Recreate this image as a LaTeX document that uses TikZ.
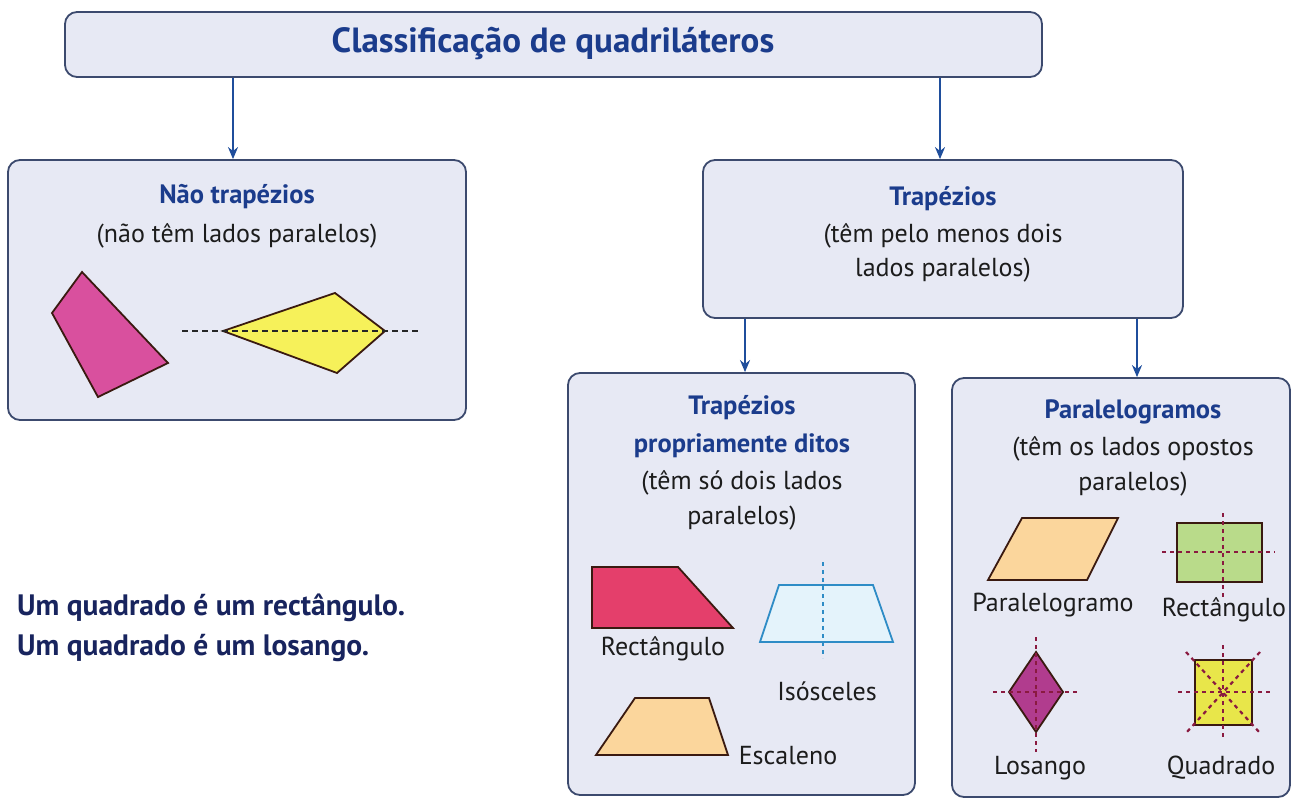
\documentclass[tikz,border=0pt]{standalone}
\usepackage{fontspec}
\setmainfont{PT Sans}
\usetikzlibrary{arrows.meta}
\definecolor{boxfill}{HTML}{E7E9F4}
\definecolor{boxline}{HTML}{3C4A6E}
\definecolor{headblue}{HTML}{1B3C8C}
\definecolor{arrowblue}{HTML}{1F4E9C}
\definecolor{navy}{HTML}{18245E}
\definecolor{txt}{HTML}{1C1C1C}
\definecolor{pinkq}{HTML}{D9509E}
\definecolor{yellowq}{HTML}{F6F15A}
\definecolor{redq}{HTML}{E43F6B}
\definecolor{lightblueq}{HTML}{E4F3FB}
\definecolor{blueline}{HTML}{2E8CC6}
\definecolor{peach}{HTML}{FBD69C}
\definecolor{greenq}{HTML}{B9DB8A}
\definecolor{purpleq}{HTML}{B13C8E}
\definecolor{yellow2}{HTML}{E8E64A}
\definecolor{maroon}{HTML}{8A1A40}
\definecolor{darkline}{HTML}{3A1A10}
\tikzset{
  panel/.style={draw=boxline, line width=1.8pt, fill=boxfill, rounded corners=12pt, inner sep=0pt},
  conn/.style={draw=arrowblue, line width=1.8pt, -{Stealth[length=12pt,width=10pt]}},
  head/.style={font=\fontsize{26.5}{38}\selectfont\bfseries, text=headblue, align=center},
  body/.style={font=\fontsize{26}{34}\selectfont, text=txt, align=center},
  lbl/.style={font=\fontsize{26}{30}\selectfont, text=txt},
  shp/.style={draw=darkline, line width=1.8pt, line join=miter},
  axisline/.style={draw=maroon, line width=2.2pt, dash pattern=on 4pt off 4pt},
  blackdash/.style={draw=black!85, line width=2.2pt, dash pattern=on 6pt off 4pt},
}
\begin{document}
\begin{tikzpicture}[x=1pt,y=-1pt]
\useasboundingbox[fill=white] (0,0) rectangle (1298,799);

% boxes
\node[panel, minimum width=977pt, minimum height=65pt] (title) at (553.5,44.5) {};
\node[font=\fontsize{35}{40}\selectfont\bfseries, text=headblue] (titletxt) at (553,44) {Classificação de quadriláteros};

\node[panel, minimum width=458pt, minimum height=260pt] (nt) at (237,290) {};
\node[panel, minimum width=480pt, minimum height=158pt] (tr) at (943,239) {};
\node[panel, minimum width=347pt, minimum height=422pt] (tpd) at (741.5,584) {};
\node[panel, minimum width=338pt, minimum height=419pt] (par) at (1121,587.5) {};

% connectors
\draw[conn] (title.south -| 233,0) -- (nt.north -| 233,0);
\draw[conn] (title.south -| 940,0) -- (tr.north -| 940,0);
\draw[conn] (tr.south -| 745,0) -- (tpd.north -| 745,0);
\draw[conn] (tr.south -| 1137,0) -- (par.north -| 1137,0);

% Nao trapezios
\node[head] (ntA) at (237,197) {Não trapézios};
\node[body] (ntB) at (237,236) {(não têm lados paralelos)};
\filldraw[shp, fill=pinkq] (82,272) -- (52,313) -- (98,397) -- (168,363) -- cycle;
\filldraw[shp, fill=yellowq] (223,331) -- (335,293) -- (385,331) -- (337,373) -- cycle;
\draw[blackdash] (182,331) -- (418,331);

% Trapezios
\node[head] (trA) at (943,199) {Trapézios};
\node[body] (trB) at (943,253) {(têm pelo menos dois\\lados paralelos)};

% Trapezios propriamente ditos
\node[head] (tpdA) at (742,427) {Trapézios\\propriamente ditos};
\node[body, font=\fontsize{26}{35}\selectfont] (tpdB) at (742,500) {(têm só dois lados\\paralelos)};
\filldraw[shp, fill=redq] (592,567) -- (678,567) -- (733,628) -- (592,628) -- cycle;
\node[lbl] (l1) at (663,649) {Rectângulo};
\filldraw[draw=blueline, line width=1.8pt, fill=lightblueq] (779,585) -- (873,585) -- (893,642) -- (760,642) -- cycle;
\draw[draw=blueline, line width=1.8pt, dash pattern=on 4pt off 4pt] (823,562) -- (823,658);
\node[lbl] (l2) at (827,691) {Isósceles};
\filldraw[shp, fill=peach] (635,698) -- (709,698) -- (728,755) -- (596,755) -- cycle;
\node[lbl] (l3) at (788,756) {Escaleno};

% Paralelogramos
\node[head] (parA) at (1133,412) {Paralelogramos};
\node[body, font=\fontsize{26}{35}\selectfont] (parB) at (1133,466) {(têm os lados opostos\\paralelos)};
\filldraw[shp, fill=peach] (1022,518) -- (1118,518) -- (1087,580) -- (988,580) -- cycle;
\node[lbl] (l4) at (1053,605) {Paralelogramo};
\filldraw[shp, fill=greenq] (1177,523) rectangle (1262,582);
\draw[axisline] (1162,552) -- (1275,552);
\draw[axisline] (1223,513) -- (1223,597);
\node[lbl] (l5) at (1224,610) {Rectângulo};
\filldraw[shp, fill=purpleq] (1036,652) -- (1063,692) -- (1036,732) -- (1009,692) -- cycle;
\draw[axisline] (1036,637) -- (1036,752);
\draw[axisline] (993,692) -- (1077,692);
\node[lbl] (l6) at (1040,768) {Losango};
\filldraw[shp, fill=yellow2] (1195,660) rectangle (1252,725);
\draw[axisline] (1178,692) -- (1270,692);
\draw[axisline] (1223,645) -- (1223,740);
\draw[axisline] (1186,652) -- (1260,733);
\draw[axisline] (1260,652) -- (1186,733);
\node[lbl] (l7) at (1221,768) {Quadrado};

% bottom text
\node[font=\fontsize{29.5}{40}\selectfont\bfseries, text=navy, align=left, anchor=west, inner sep=0pt] (note) at (17,628) {Um quadrado é um rectângulo.\\Um quadrado é um losango.};
\end{tikzpicture}
\end{document}
